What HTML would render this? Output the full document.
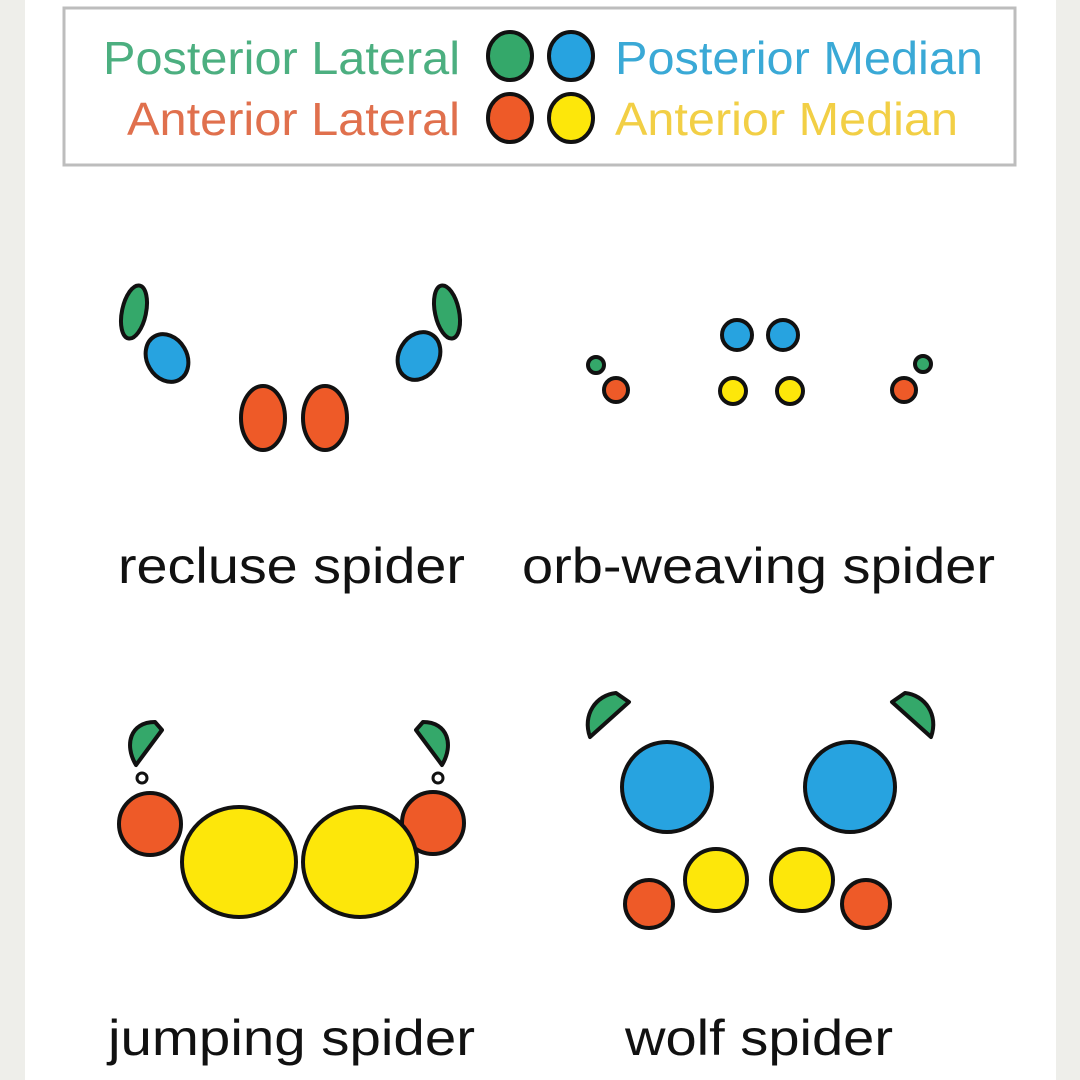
<!DOCTYPE html>
<html><head><meta charset="utf-8"><style>
html,body{margin:0;padding:0;background:#fff;}
svg{display:block;}
text{font-family:"Liberation Sans",Arial,sans-serif;}
</style></head><body>
<svg width="1080" height="1080" viewBox="0 0 1080 1080" xmlns="http://www.w3.org/2000/svg">
<rect x="0" y="0" width="1080" height="1080" fill="#fff"/>
<rect x="0" y="0" width="25" height="1080" fill="#eeeeea"/>
<rect x="1056" y="0" width="24" height="1080" fill="#eeeeea"/>
<rect x="64" y="8" width="951" height="157" fill="#fff" stroke="#bdbdbd" stroke-width="3"/>
<g font-size="46">
<text x="103" y="74" fill="#4caf80" textLength="357" lengthAdjust="spacingAndGlyphs">Posterior Lateral</text>
<text x="127" y="135" fill="#e0704d" textLength="333" lengthAdjust="spacingAndGlyphs">Anterior Lateral</text>
<text x="615" y="74" fill="#3aa9d6" textLength="368" lengthAdjust="spacingAndGlyphs">Posterior Median</text>
<text x="615" y="135" fill="#f2cf45" textLength="343" lengthAdjust="spacingAndGlyphs">Anterior Median</text>
</g>
<g stroke="#111" stroke-width="4">
<ellipse cx="510" cy="56" rx="22" ry="24" fill="#34a86a"/>
<ellipse cx="571" cy="56" rx="22" ry="24" fill="#27a3e0"/>
<ellipse cx="510" cy="118" rx="22" ry="24" fill="#ee5a28"/>
<ellipse cx="571" cy="118" rx="22" ry="24" fill="#fde70a"/>

<!-- recluse -->
<ellipse cx="0" cy="0" rx="12" ry="27" fill="#34a86a" transform="translate(134,312) rotate(12)"/>
<ellipse cx="0" cy="0" rx="20" ry="25" fill="#27a3e0" transform="translate(167,358) rotate(-30)"/>
<ellipse cx="263" cy="418" rx="22" ry="32" fill="#ee5a28"/>
<ellipse cx="325" cy="418" rx="22" ry="32" fill="#ee5a28"/>
<ellipse cx="0" cy="0" rx="20" ry="25" fill="#27a3e0" transform="translate(419,356) rotate(30)"/>
<ellipse cx="0" cy="0" rx="12" ry="27" fill="#34a86a" transform="translate(447,312) rotate(-12)"/>

<!-- orb -->
<circle cx="596" cy="365" r="8" fill="#34a86a"/>
<circle cx="616" cy="390" r="12" fill="#ee5a28"/>
<circle cx="737" cy="335" r="15" fill="#27a3e0"/>
<circle cx="783" cy="335" r="15" fill="#27a3e0"/>
<circle cx="733" cy="391" r="13" fill="#fde70a"/>
<circle cx="790" cy="391" r="13" fill="#fde70a"/>
<circle cx="904" cy="390" r="12" fill="#ee5a28"/>
<circle cx="923" cy="364" r="8" fill="#34a86a"/>

<!-- jumping -->
<path d="M136,765 C124,745 130,722 155,722 L162,730 Z" fill="#34a86a" stroke-linejoin="round"/>
<path d="M442,765 C454,745 448,722 423,722 L416,730 Z" fill="#34a86a" stroke-linejoin="round"/>
<circle cx="142" cy="778" r="5" fill="#fff" stroke-width="3"/>
<circle cx="438" cy="778" r="5" fill="#fff" stroke-width="3"/>
<ellipse cx="150" cy="824" rx="31" ry="31" fill="#ee5a28"/>
<ellipse cx="433" cy="823" rx="31" ry="31" fill="#ee5a28"/>
<ellipse cx="239" cy="862" rx="57" ry="55" fill="#fde70a"/>
<ellipse cx="360" cy="862" rx="57" ry="55" fill="#fde70a"/>

<!-- wolf -->
<path d="M590,737 C582,715 596,695 616,693 L629,702 Z" fill="#34a86a" stroke-linejoin="round"/>
<path d="M931,737 C939,715 925,695 905,693 L892,702 Z" fill="#34a86a" stroke-linejoin="round"/>
<ellipse cx="667" cy="787" rx="45" ry="45" fill="#27a3e0"/>
<ellipse cx="850" cy="787" rx="45" ry="45" fill="#27a3e0"/>
<ellipse cx="649" cy="904" rx="24" ry="24" fill="#ee5a28"/>
<ellipse cx="716" cy="880" rx="31" ry="31" fill="#fde70a"/>
<ellipse cx="802" cy="880" rx="31" ry="31" fill="#fde70a"/>
<ellipse cx="866" cy="904" rx="24" ry="24" fill="#ee5a28"/>
</g>

<g font-size="50" fill="#111">
<text x="118" y="583" textLength="347" lengthAdjust="spacingAndGlyphs">recluse spider</text>
<text x="522" y="583" textLength="473" lengthAdjust="spacingAndGlyphs">orb-weaving spider</text>
<text x="108" y="1055" textLength="367" lengthAdjust="spacingAndGlyphs">jumping spider</text>
<text x="625" y="1055" textLength="268" lengthAdjust="spacingAndGlyphs">wolf spider</text>
</g>
</svg>
</body></html>
